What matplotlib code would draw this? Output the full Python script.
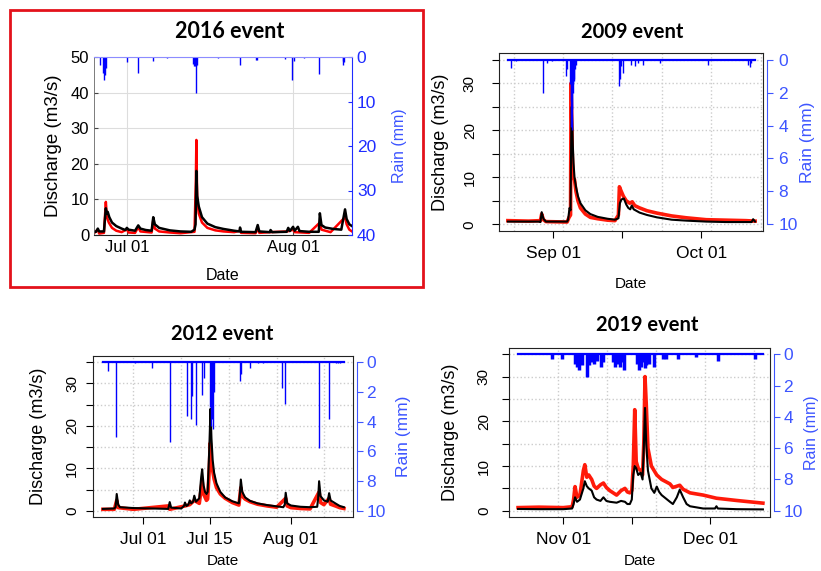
import pandas as pd
import matplotlib
matplotlib.use("Agg")
import matplotlib.pyplot as plt
from matplotlib.patches import Rectangle

plt.rcParams['font.family'] = ['Liberation Sans', 'DejaVu Sans']

W, H = 821, 571
RAIN_BLUE = '#1f2cff'
LABEL_BLUE = '#3d55ff'

# ---------- 2016 event (days after 2016-07-01) ----------
ref16 = '2016-07-01'
t16_sim = [-6.16, -5.8, -5.45, -5.2, -4.3, -3.95, -3.8, -3.6, -3.3, -2.8, -2.0, -1.0, -0.3, -0.03, 0.3,
           1.5, 2.1, 2.5, 3.5, 4.6, 4.9, 5.2, 6.0, 8.0, 10.0, 12.0, 12.6, 12.8, 12.95, 13.1, 13.4, 14.0,
           15.0, 16.5, 18.0, 20.0, 21.0, 21.1, 21.3, 24.0, 24.4, 24.7, 26.7, 26.8, 27.1, 29.8, 30.1, 30.4,
           31.0, 31.3, 31.9, 32.2, 34.0, 35.8, 36.0, 36.3, 37.0, 38.5, 40.0, 40.7, 41.0, 41.5, 42.0]
q16_sim = [0.9, 0.9, 1.8, 1.0, 1.0, 7.5, 6.0, 6.5, 5.0, 3.5, 2.5, 1.8, 1.4, 2.0, 1.5,
           1.2, 2.7, 1.8, 1.4, 1.2, 5.0, 3.0, 2.0, 1.3, 1.0, 0.9, 1.5, 3.0, 18.0, 11.0, 8.0, 5.0,
           3.2, 2.2, 1.7, 1.2, 1.0, 2.1, 0.9, 0.8, 2.8, 1.0, 0.8, 1.4, 0.8, 0.9, 2.0, 1.1,
           2.3, 1.2, 2.3, 1.1, 0.9, 0.9, 6.1, 2.8, 2.1, 1.7, 1.5, 7.2, 4.5, 3.0, 2.5]
t16_obs = [-6.16, -5.45, -5.2, -4.3, -3.95, -3.75, -3.4, -2.8, -2.0, -1.0, -0.03, 0.3, 1.5, 2.1, 2.5,
           4.6, 4.9, 5.2, 6.0, 8.0, 10.0, 12.6, 12.85, 12.95, 13.1, 13.4, 14.0, 15.0, 16.5, 18.0, 20.0,
           21.1, 21.3, 24.0, 24.4, 24.7, 26.8, 29.9, 31.0, 31.3, 34.0, 36.0, 36.3, 38.0, 40.7, 41.0,
           41.5, 42.0]
q16_obs = [0.5, 1.5, 0.4, 0.6, 9.3, 5.0, 3.5, 2.0, 1.2, 0.8, 1.6, 0.7, 0.6, 2.2, 1.0,
           0.7, 4.2, 1.8, 1.0, 0.7, 0.5, 0.9, 15.0, 26.7, 10.0, 6.0, 3.5, 2.0, 1.3, 1.0, 0.8,
           1.2, 0.6, 0.5, 1.8, 0.6, 0.8, 1.0, 1.5, 0.8, 0.6, 3.5, 1.5, 0.8, 5.0, 3.0,
           1.5, 1.0]
t16_rain = [-5.1, -4.5, -4.3, -4.1, -3.9, 0.0, 2.0, 4.9, 7.5, 12.3, 12.5, 12.65, 12.8, 12.9, 13.0,
            17.0, 21.1, 24.0, 24.3, 29.5, 30.75, 31.2, 33.0, 35.9, 40.3, 40.4, 40.5]
p16_rain = [1.9, 3.5, 5.2, 4.0, 2.5, 1.1, 3.6, 0.9, 0.3, 1.5, 2.0, 2.0, 8.1, 2.0, 1.8,
            0.2, 1.9, 0.6, 0.6, 0.4, 5.2, 0.8, 0.2, 3.9, 1.0, 1.9, 1.2]

# ---------- 2009 event (days after 2009-09-01) ----------
ref09 = '2009-09-01'
t09_sim = [-9.2, -3.0, -2.6, -2.35, -2.0, -1.5, 2.8, 3.0, 3.3, 3.5, 3.65, 3.75, 3.85, 3.95, 4.1,
           4.3, 4.6, 5.0, 5.5, 6.5, 7.5, 9.0, 11.0, 12.5, 13.2, 13.5, 13.8, 14.3, 14.8, 15.2, 15.6,
           15.9, 16.3, 17.5, 19.0, 21.0, 24.0, 27.0, 31.0, 35.0, 39.0, 40.2, 40.5, 40.9]
q09_sim = [0.6, 0.6, 0.5, 2.6, 1.2, 0.6, 0.6, 1.0, 3.5, 3.0, 20.0, 25.0, 21.0, 17.0, 13.0,
           10.0, 8.0, 6.0, 4.5, 3.0, 2.2, 1.6, 1.2, 1.0, 1.3, 4.5, 5.3, 5.5, 4.2, 3.5, 3.2,
           4.0, 3.2, 2.5, 2.0, 1.5, 1.0, 0.8, 0.6, 0.5, 0.5, 0.5, 1.1, 0.6]
t09_obs = [-9.2, -5.0, -2.6, -2.35, -2.0, -1.5, 2.8, 3.2, 3.5, 3.6, 3.7, 3.85, 4.0, 4.3, 4.6,
           5.0, 5.5, 6.5, 7.5, 9.0, 11.0, 12.5, 13.2, 13.4, 13.7, 14.2, 14.8, 15.5, 16.0, 16.5,
           17.5, 19.0, 21.0, 24.0, 27.0, 31.0, 35.0, 39.0, 40.9]
q09_obs = [0.8, 0.7, 0.8, 2.2, 1.0, 0.6, 0.5, 1.5, 2.0, 30.0, 25.0, 15.0, 10.0, 9.5, 7.0,
           5.0, 3.5, 2.2, 1.5, 1.2, 0.9, 0.8, 2.0, 8.0, 7.2, 6.0, 5.0, 4.5, 4.8, 4.0,
           3.5, 2.9, 2.4, 1.8, 1.4, 1.0, 0.9, 0.8, 0.7]
t09_rain = [-8.6, -7.5, -2.0, -1.2, -0.3, 2.6, 2.7, 3.45, 3.55, 3.65, 3.75, 3.85, 3.95, 4.05, 4.15,
            4.3, 4.5, 4.7, 13.4, 13.5, 13.7, 14.2, 15.8, 16.5, 17.2, 18.2, 21.6, 31.4, 39.5, 39.8, 40.0]
p09_rain = [0.5, 0.1, 2.0, 0.2, 0.1, 1.0, 0.6, 1.5, 2.5, 4.1, 4.3, 3.0, 2.0, 1.5, 1.3,
            1.2, 0.6, 0.3, 1.6, 1.2, 0.4, 0.8, 0.3, 0.4, 0.2, 0.3, 0.2, 0.35, 0.3, 0.45, 0.2]

# ---------- 2012 event (days after 2012-07-01) ----------
ref12 = '2012-07-01'
t12_sim = [-8.4, -6.0, -5.75, -5.5, -5.2, -4.8, -2.0, 2.0, 5.3, 5.6, 5.9, 8.0, 8.6, 8.8, 9.1,
           9.5, 9.8, 10.1, 10.5, 10.75, 11.1, 11.8, 12.2, 12.4, 12.7, 13.0, 13.3, 13.55, 13.9, 14.15,
           14.35, 14.6, 14.9, 15.4, 16.2, 17.2, 18.7, 20.1, 20.3, 20.5, 20.8, 21.4, 22.4, 24.0, 26.0,
           28.0, 29.4, 29.7, 29.9, 30.2, 31.0, 33.0, 35.0, 36.5, 36.7, 36.9, 37.2, 37.9, 38.7, 39.0,
           39.3, 40.3, 41.2, 42.1]
q12_sim = [0.5, 0.6, 0.9, 4.0, 1.5, 0.9, 0.7, 0.6, 0.5, 2.1, 0.8, 0.6, 1.2, 2.0, 1.2,
           1.5, 2.5, 1.8, 2.2, 3.6, 2.2, 3.0, 8.0, 9.8, 6.0, 4.5, 4.0, 4.5, 15.0, 24.0,
           17.0, 12.0, 9.0, 6.5, 4.5, 3.2, 2.3, 1.8, 4.0, 7.4, 4.5, 3.2, 2.4, 1.8, 1.4,
           1.1, 0.9, 1.5, 4.3, 1.8, 1.3, 1.0, 0.9, 1.0, 3.0, 7.0, 3.5, 2.5, 2.2, 4.2,
           2.5, 1.8, 1.2, 0.9]
t12_obs = [-8.4, -6.0, -5.5, -5.2, -2.0, 5.3, 5.6, 8.8, 9.8, 10.75, 11.8, 12.4, 12.7, 13.3, 13.55,
           13.9, 14.1, 14.35, 14.6, 14.9, 15.4, 16.2, 17.2, 18.7, 20.1, 20.5, 20.8, 21.4, 22.4, 24.0,
           26.0, 28.0, 29.9, 30.2, 31.0, 33.0, 35.0, 36.9, 37.2, 37.9, 39.0, 39.3, 40.3, 41.2, 42.1]
q12_obs = [0.4, 0.4, 2.5, 0.8, 0.4, 1.2, 0.4, 1.2, 1.5, 2.5, 1.8, 7.0, 4.0, 2.5, 2.8,
           10.0, 16.0, 10.5, 9.5, 7.5, 5.5, 4.0, 3.0, 2.0, 1.4, 5.5, 3.5, 2.8, 2.2, 1.6,
           1.2, 0.9, 3.0, 1.2, 0.8, 0.6, 0.5, 4.5, 2.0, 1.5, 3.0, 1.6, 1.2, 0.8, 0.6]
t12_rain = [-7.3, -5.6, -1.7, 1.95, 5.6, 9.3, 10.05, 10.3, 11.1, 12.3, 12.85, 14.1, 14.3, 14.5, 14.7,
            14.9, 20.4, 20.6, 22.4, 24.1, 25.1, 29.2, 29.8, 36.8, 38.9, 40.4, 40.8, 41.3]
p12_rain = [0.6, 5.0, 0.1, 0.4, 5.4, 3.6, 3.8, 2.3, 4.2, 2.2, 1.1, 3.0, 4.3, 3.8, 4.5,
            2.0, 1.3, 0.8, 0.4, 0.1, 0.1, 1.75, 2.8, 5.75, 3.8, 0.1, 0.1, 0.1]

# ---------- 2019 event (days after 2019-11-01) ----------
ref19 = '2019-11-01'
t19_sim = [-9.25, -5.0, 0.0, 1.8, 2.1, 2.4, 2.8, 3.4, 4.1, 4.4, 4.8, 5.2, 5.8, 6.3, 6.8,
           7.6, 8.2, 8.8, 9.5, 10.9, 11.8, 12.6, 13.1, 13.6, 14.0, 14.3, 14.6, 14.9, 15.3, 15.8,
           16.2, 16.45, 16.7, 16.95, 17.3, 18.0, 18.6, 19.1, 19.6, 20.1, 21.8, 22.4, 23.2, 23.8, 24.5,
           25.2, 25.9, 28.6, 31.0, 31.3, 31.6, 35.4, 40.8]
q19_sim = [0.4, 0.35, 0.35, 0.5, 1.5, 3.0, 2.0, 2.5, 5.0, 6.6, 5.5, 5.0, 4.5, 3.0, 2.5,
           2.2, 3.0, 2.2, 2.0, 1.8, 2.2, 2.0, 1.5, 1.5, 2.5, 8.0, 10.0, 9.5, 8.0, 8.5,
           7.0, 14.0, 23.0, 15.0, 9.0, 5.0, 4.0, 5.4, 4.2, 3.5, 2.0, 1.5, 3.0, 4.7, 3.0,
           1.5, 1.0, 0.5, 0.5, 1.0, 0.5, 0.35, 0.3]
t19_obs = [-9.25, -5.0, 0.0, 1.8, 2.1, 2.4, 2.8, 3.4, 4.1, 4.4, 4.8, 5.2, 5.8, 6.3, 6.8,
           7.6, 8.2, 8.8, 9.5, 10.9, 11.8, 12.6, 13.1, 13.6, 14.0, 14.3, 14.6, 14.9, 15.3, 15.8,
           16.2, 16.45, 16.7, 16.95, 17.3, 18.0, 19.1, 20.1, 21.8, 22.4, 23.8, 24.5, 25.9, 28.6, 31.3,
           35.4, 40.8]
q19_obs = [0.7, 0.8, 0.7, 0.9, 2.5, 5.4, 3.0, 3.5, 9.0, 10.3, 7.5, 8.0, 7.0, 5.5, 5.0,
           5.8, 6.2, 5.2, 4.5, 3.5, 4.5, 5.0, 4.2, 4.0, 4.5, 10.0, 22.6, 11.0, 9.5, 9.0,
           8.0, 15.0, 30.0, 24.0, 14.0, 10.0, 8.0, 7.0, 6.0, 5.2, 5.7, 4.8, 4.0, 3.5, 2.8,
           2.3, 1.7]
t19_rain = [-2.4, -0.3, 2.4, 2.8, 3.2, 3.75, 4.8, 5.3, 5.8, 6.3, 6.8, 7.8, 8.1, 10.1, 10.5,
            11.0, 11.6, 12.0, 12.4, 15.0, 15.4, 15.8, 16.2, 16.6, 17.0, 17.6, 18.5, 20.3, 21.0, 23.5,
            27.2, 31.6, 39.1]
p19_rain = [0.3, 0.3, 0.6, 0.8, 1.0, 0.7, 1.45, 0.7, 0.5, 0.6, 0.4, 0.8, 0.5, 0.5, 0.8,
            0.6, 0.8, 0.5, 1.0, 0.6, 1.0, 0.8, 0.5, 0.9, 0.7, 0.6, 0.8, 0.3, 0.3, 0.3,
            0.2, 0.45, 0.3]


def dates(ref, t):
    return pd.Timestamp(ref) + pd.to_timedelta(t, unit='D')


def rect(l, t, r, b):
    return [l / W, 1 - b / H, (r - l) / W, (b - t) / H]


fig = plt.figure(figsize=(W / 100, H / 100), dpi=100)

# ---------- panel 1: 2016 (matlab look) ----------
ax = fig.add_axes(rect(94, 57, 352, 235))
ax.plot(dates(ref16, t16_obs), q16_obs, color='red', lw=1.8)
ax.plot(dates(ref16, t16_sim), q16_sim, color='black', lw=1.8)
ax.set_ylim(0, 50)
ax.set_xlim(dates(ref16, [-6.16, 42.0]))
ax.set_yticks([0, 10, 20, 30, 40, 50])
ax.set_xticks(dates(ref16, [0, 31]), ['Jul 01', 'Aug 01'])
ax.grid(color='#dddddd', lw=0.8)
ax.set_axisbelow(True)
ax.tick_params(direction='in', length=3, labelsize=12, color='#444444')
for s in ['top', 'right']:
    ax.spines[s].set_visible(False)
ax.spines['left'].set_color('#666666')
ax.spines['left'].set_linewidth(0.6)
ax.spines['bottom'].set_color('#222222')
ax.set_ylabel('Discharge (m3/s)', fontsize=13.5)
ax.yaxis.set_label_coords(-0.125, 0.5)
ax.set_xlabel('Date', fontsize=11.5)
ax.xaxis.set_label_coords(0.5, -0.185)

rn = ax.twinx()
rn.vlines(dates(ref16, t16_rain), 0, p16_rain, color='blue', lw=1.0)
rn.set_ylim(40, 0)
rn.set_yticks([0, 10, 20, 30, 40])
rn.tick_params(direction='in', length=3, labelsize=12.5, colors=RAIN_BLUE)
for s in ['left', 'bottom']:
    rn.spines[s].set_visible(False)
rn.spines['right'].set_color(RAIN_BLUE)
rn.spines['top'].set_color('#8c8cff')
rn.set_ylabel('Rain (mm)', fontsize=11.5, color=LABEL_BLUE)
rn.yaxis.set_label_coords(1.155, 0.5)

fig.text(230 / W, 1 - 32 / H, '2016 event', ha='center', va='center',
         fontsize=15.5, fontweight='bold', family='Lato')
fig.add_artist(Rectangle((10 / W, 1 - 287 / H), 413 / W, 277 / H, transform=fig.transFigure,
                         fill=False, ec='#e3121b', lw=2))


# ---------- R-style panels ----------
def r_panel(box, ref, t_obs, q_obs, t_sim, q_sim, t_rain, p_rain, xlim, xticks, xlabels,
            vgrid, title, title_xy, ypad, rpad, lab_x, date_y, rain_x, rain_fs, rain_lw):
    ax = fig.add_axes(rect(*box))
    for g in vgrid:
        ax.axvline(dates(ref, [g])[0], color='#cccccc', ls=':', lw=1.0, zorder=0)
    ax.plot(dates(ref, t_obs), q_obs, color='#ff1a0a', lw=2.6)
    ax.plot(dates(ref, t_sim), q_sim, color='black', lw=1.5)
    ax.set_ylim(-1.4, 36.4)
    ax.set_xlim(dates(ref, xlim))
    ax.set_yticks(range(0, 36, 5), ['0', '', '10', '', '20', '', '30', ''])
    ax.grid(axis='y', color='#cccccc', ls=':', lw=1.0)
    ax.set_axisbelow(True)
    ax.set_xticks(dates(ref, xticks), xlabels)
    ax.tick_params(axis='x', direction='out', length=5, labelsize=12.5, pad=6)
    ax.tick_params(axis='y', direction='out', length=5, labelsize=11, pad=ypad)
    for lab in ax.get_yticklabels():
        lab.set_rotation(90)
        lab.set_va('center')
    for s in ax.spines.values():
        s.set_color('#222222')
    ax.set_ylabel('Discharge (m3/s)', fontsize=13)
    ax.yaxis.set_label_coords(lab_x, 0.5)
    ax.set_xlabel('Date', fontsize=11)
    ax.xaxis.set_label_coords(0.5, date_y)

    rn = ax.twinx()
    rn.plot(dates(ref, [t_obs[0], t_obs[-1]]), [0, 0], color='blue', lw=1.6)
    rn.vlines(dates(ref, t_rain), 0, p_rain, color='blue', lw=rain_lw)
    rn.set_ylim(10.4, -0.4)
    rn.set_yticks([0, 2, 4, 6, 8, 10])
    rn.tick_params(direction='out', length=4, labelsize=12.5, colors=LABEL_BLUE, pad=rpad)
    for s in ['left', 'bottom', 'top']:
        rn.spines[s].set_visible(False)
    rn.spines['right'].set_color(LABEL_BLUE)
    rn.spines['right'].set_position(('outward', 3))
    rn.spines['right'].set_bounds(0, 10)
    rn.set_ylabel('Rain (mm)', fontsize=rain_fs, color=LABEL_BLUE)
    rn.yaxis.set_label_coords(rain_x, 0.5)

    fig.text(title_xy[0] / W, 1 - title_xy[1] / H, title, ha='center', va='center',
             fontsize=14.5, fontweight='bold', family='Lato')


r_panel((499, 53, 763, 231), ref09, t09_obs, q09_obs, t09_sim, q09_sim, t09_rain, p09_rain,
        [-11.0, 42.5], [0, 14, 30], ['Sep 01', '', 'Oct 01'], [-8, 2, 12, 22, 32, 42],
        '2009 event', (632, 32), 11, 4, -0.19, -0.258, 1.14, 12.5, 1.0)

r_panel((93, 356, 353, 517), ref12, t12_obs, q12_obs, t12_sim, q12_sim, t12_rain, p12_rain,
        [-10.47, 44.0], [0, 14, 31], ['Jul 01', 'Jul 15', 'Aug 01'], [-2, 8, 18, 28, 38],
        '2012 event', (222, 334), 5, 2.5, -0.177, -0.23, 1.165, 12.5, 1.0)

r_panel((509, 348, 770, 517), ref19, t19_obs, q19_obs, t19_sim, q19_sim, t19_rain, p19_rain,
        [-11.1, 42.25], [0, 14, 30], ['Nov 01', '', 'Dec 01'], [-1, 9, 19, 29, 39],
        '2019 event', (647, 325), 8, 2.5, -0.19, -0.22, 1.13, 11.5, 2.5)

fig.savefig('out.png', dpi=100)
